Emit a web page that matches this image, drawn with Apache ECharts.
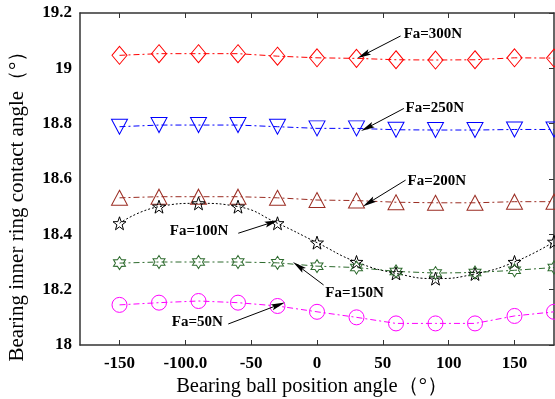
<!DOCTYPE html>
<html>
<head>
<meta charset="utf-8">
<script src="https://cdn.jsdelivr.net/npm/echarts@6/dist/echarts.min.js"></script>
<style>
html, body { margin: 0; padding: 0; background: #fff; }
#chart { width: 555px; height: 399px; }
</style>
</head>
<body>
<div id="chart"></div>
<script>
// ball position angles (deg)
var angles = [-150, -120, -90, -60, -30, 0, 30, 60, 90, 120, 150, 180];
var xTicks = [-150, -100, -50, 0, 50, 100, 150];

// contact angle for each axial load
var fa300 = [19.047, 19.053, 19.053, 19.053, 19.044, 19.038, 19.036, 19.031, 19.030, 19.031, 19.038, 19.037];
var fa250 = [18.789, 18.795, 18.795, 18.795, 18.789, 18.783, 18.783, 18.778, 18.777, 18.777, 18.779, 18.779];
var fa200 = [18.532, 18.536, 18.536, 18.536, 18.532, 18.524, 18.522, 18.516, 18.514, 18.514, 18.518, 18.518];
var fa100 = [18.440, 18.500, 18.512, 18.500, 18.440, 18.370, 18.300, 18.259, 18.240, 18.257, 18.300, 18.373];
var fa150 = [18.296, 18.300, 18.300, 18.300, 18.297, 18.285, 18.280, 18.266, 18.260, 18.262, 18.270, 18.280];
var fa50  = [18.145, 18.153, 18.159, 18.153, 18.141, 18.120, 18.100, 18.078, 18.078, 18.078, 18.105, 18.120];

// annotation text anchors and arrows, in data units
var noteText  = ['Fa=300N', 'Fa=250N', 'Fa=200N', 'Fa=100N', 'Fa=150N', 'Fa=50N'];
var notePos   = [[65.8, 19.124], [67.3, 18.857], [68.8, 18.593], [-111.8, 18.412], [6.3, 18.188], [-110.3, 18.081]];
var arrowFrom = [[63.5, 19.117], [66.0, 18.855], [67.3, 18.596], [-59.8, 18.404], [5.0, 18.217], [-67.4, 18.076]];
var arrowTo   = [[35.3, 19.048], [38.1, 18.785], [39.3, 18.514], [-34.3, 18.443], [-14.0, 18.285], [-29.3, 18.145]];

var STAR5 = 'path://M50,0 L61.8,33.8 L97.6,34.5 L69,56.2 L79.4,90.5 L50,70 L20.6,90.5 L31,56.2 L2.4,34.5 L38.2,33.8 Z';
var STAR6 = 'path://M50,0 L64.5,24.9 L93.3,25 L79,50 L93.3,75 L64.5,75.1 L50,100 L35.5,75.1 L6.7,75 L21,50 L6.7,25 L35.5,24.9 Z';
var ARROW = 'path://M5,0 L10,22 L5,18 L0,22 Z';
var SERIF = '"Liberation Serif", "Times New Roman", serif';
var DASHDOT = [6, 3, 2, 3];

function pairs(vals) {
    var out = [];
    for (var i = 0; i < angles.length; i++) {
        out.push([angles[i], vals[i]]);
    }
    return out;
}

function makeSeries(name, vals, color, symbol, size, dash, smooth, noteIdx) {
    return {
        name: name,
        type: 'line',
        data: pairs(vals),
        smooth: smooth,
        symbol: symbol,
        symbolSize: size,
        symbolRotate: 0,
        showAllSymbol: true,
        itemStyle: { color: 'rgba(0,0,0,0)', borderColor: color, borderWidth: 1 },
        lineStyle: { color: color, width: 1, type: dash },
        emphasis: { disabled: true },
        z: 3,
        markLine: {
            silent: true,
            animation: false,
            symbol: ['none', ARROW],
            itemStyle: { color: '#000' },
            lineStyle: { color: '#000', width: 1, type: 'solid' },
            label: { show: false },
            data: [[
                { coord: arrowFrom[noteIdx], symbol: 'none' },
                { coord: arrowTo[noteIdx], symbol: ARROW, symbolSize: [6, 14], itemStyle: { color: '#000' } }
            ]]
        },
        markPoint: {
            silent: true,
            animation: false,
            symbol: 'circle',
            symbolSize: 0,
            label: {
                show: true,
                position: 'right',
                distance: 0,
                color: '#000',
                fontFamily: SERIF,
                fontWeight: 'bold',
                fontSize: 15,
                formatter: noteText[noteIdx]
            },
            data: [{ coord: notePos[noteIdx] }]
        }
    };
}

var chart = echarts.init(document.getElementById('chart'), null, { renderer: 'canvas' });

var series = [
    makeSeries('Fa=300N', fa300, '#ff0000', 'diamond', [15, 18], DASHDOT, false, 0),
    makeSeries('Fa=250N', fa250, '#0000ff', 'triangle', [16, 15], DASHDOT, false, 1),
    makeSeries('Fa=200N', fa200, '#9b2d23', 'triangle', [16, 15], DASHDOT, false, 2),
    makeSeries('Fa=100N', fa100, '#000000', STAR5, [13, 13], [2, 2], 0.5, 3),
    makeSeries('Fa=150N', fa150, '#2e6b2e', STAR6, [12, 13], DASHDOT, false, 4),
    makeSeries('Fa=50N', fa50, '#ff00ff', 'circle', [15, 15], DASHDOT, false, 5)
];
series[1].symbolRotate = 180;

var axisLineStyle = { color: '#333', width: 1.5 };

var option = {
    animation: false,
    backgroundColor: '#fff',
    grid: { left: 80, right: 1, top: 13, bottom: 54, outerBoundsMode: 'none' },
    xAxis: [{
        type: 'value',
        min: -180,
        max: 180,
        position: 'bottom',
        axisLine: { show: true, onZero: false, lineStyle: axisLineStyle },
        axisTick: { show: true, inside: true, length: 5, customValues: xTicks, lineStyle: { color: '#333' } },
        axisLabel: {
            customValues: xTicks,
            margin: 10,
            color: '#000',
            fontFamily: SERIF,
            fontWeight: 'bold',
            fontSize: 17,
            formatter: function (v) { return v === -100 ? '-100.0' : String(v); }
        },
        splitLine: { show: false }
    }, {
        type: 'value',
        min: -180,
        max: 180,
        position: 'top',
        axisLine: { show: true, onZero: false, lineStyle: axisLineStyle },
        axisTick: { show: true, inside: true, length: 5, customValues: xTicks, lineStyle: { color: '#333' } },
        axisLabel: { show: false },
        splitLine: { show: false }
    }],
    yAxis: [{
        type: 'value',
        min: 18,
        max: 19.2,
        interval: 0.2,
        position: 'left',
        axisLine: { show: true, onZero: false, lineStyle: axisLineStyle },
        axisTick: { show: false },
        axisLabel: {
            margin: 8,
            color: '#000',
            fontFamily: SERIF,
            fontWeight: 'bold',
            fontSize: 17
        },
        splitLine: { show: false }
    }, {
        type: 'value',
        min: 18,
        max: 19.2,
        interval: 0.2,
        position: 'right',
        axisLine: { show: true, onZero: false, lineStyle: axisLineStyle },
        axisTick: { show: true, inside: true, length: 5, lineStyle: { color: '#333' } },
        axisLabel: { show: false },
        splitLine: { show: false }
    }],
    graphic: [{
        type: 'text',
        x: 17,
        y: 201,
        rotation: Math.PI / 2,
        style: {
            text: 'Bearing inner ring contact angle（°）',
            fill: '#000',
            font: '21px ' + SERIF,
            align: 'center',
            verticalAlign: 'middle'
        }
    }, {
        type: 'text',
        x: 312,
        y: 387,
        style: {
            text: 'Bearing ball position angle（°）',
            fill: '#000',
            font: '20.5px ' + SERIF,
            align: 'center',
            verticalAlign: 'middle'
        }
    }],
    series: series
};

chart.setOption(option);
</script>
</body>
</html>
